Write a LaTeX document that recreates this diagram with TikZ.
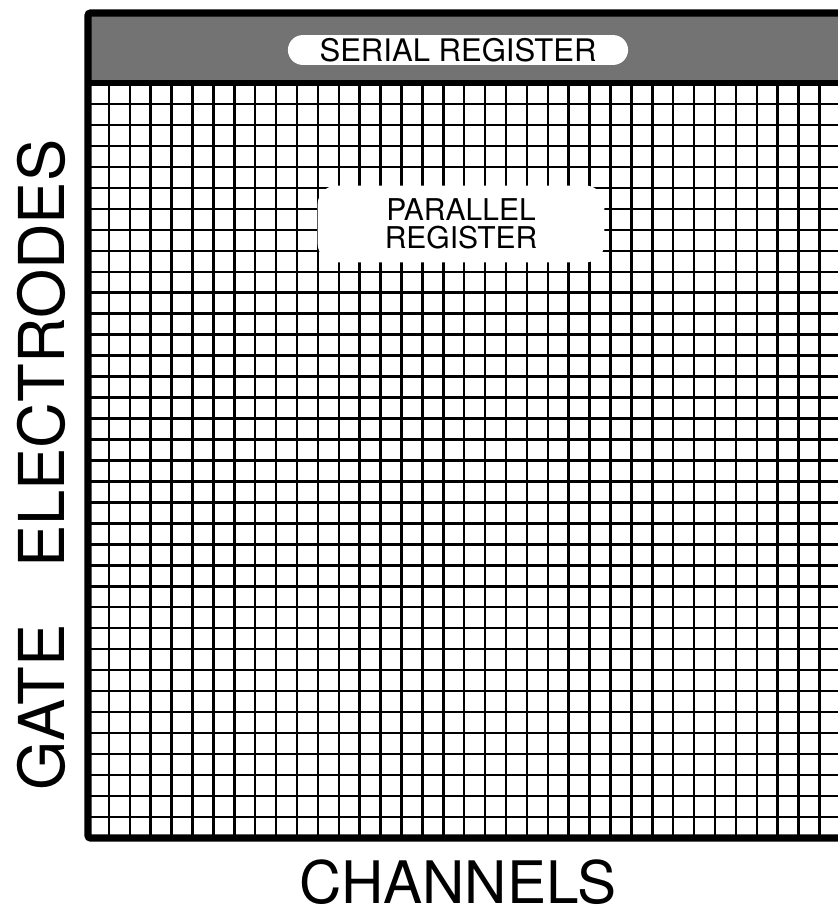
\documentclass[tikz,border=0pt]{standalone}
\usepackage{fontspec}
\setmainfont{TeX Gyre Heros}
\usetikzlibrary{shapes.misc}
\begin{document}
\begin{tikzpicture}[
    x=0.03cm, y=-0.03cm,
    frameline/.style={line width=6pt, rounded corners=2pt},
    sepline/.style={line width=5pt},
    gridline/.style={line width=2.1pt},
    pill/.style={rounded rectangle, fill=white, inner xsep=22pt, inner ysep=0pt, minimum height=25.5pt, font=\fontsize{26.5}{26.5}\selectfont},
    cutout/.style={rectangle, rounded corners=16pt, fill=white, minimum width=8.6cm, minimum height=2.3cm, align=center, font=\fontsize{25.6}{24}\selectfont},
    axistext/.style={inner sep=0pt, font=\fontsize{50}{50}\selectfont}
]
\useasboundingbox (0,0) rectangle (838,915);
\clip (0,0) rectangle (838,915);

% Serial register band
\fill[black!55] (88,13) rectangle (850,83);

% Grid of cells
\foreach \i in {1,...,35}
    \draw[gridline] ({88+\i*20.9},83) -- ({88+\i*20.9},838);
\foreach \j in {1,...,35}
    \draw[gridline] (88,{83+\j*20.97}) -- (850,{83+\j*20.97});

% Labels
\node[pill] (serial) at (458,50) {SERIAL REGISTER};
\node[cutout] (parallel) at (461,224) {PARALLEL\\REGISTER};

% Frame
\draw[frameline] (850,13) -- (88,13) -- (88,838) -- (850,838);
\draw[sepline] (88,83) -- (850,83);

% Axis names
\node[axistext, rotate=90, font=\fontsize{54}{54}\selectfont] (gate) at (41,465) {GATE\hspace{0.9em}ELECTRODES};
\node[axistext] (channels) at (458,882) {CHANNELS};

\end{tikzpicture}
\end{document}
